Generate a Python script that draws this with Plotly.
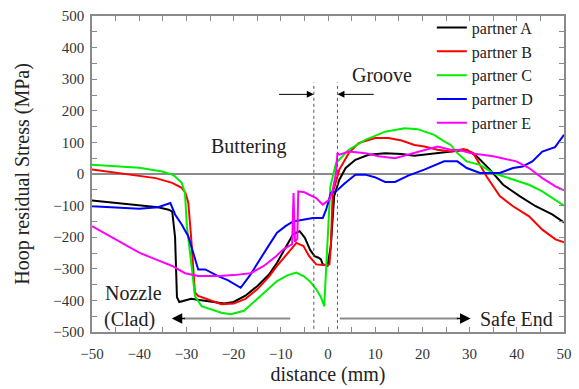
import plotly.graph_objects as go

# ---- data ----
xa = [-50, -45.6, -40, -36, -33.75, -33, -32.4, -32, -31.5, -30.5, -29, -28, -26, -24, -22, -20, -17.5, -15, -12.5,
      -10.8, -9, -7.4, -6, -4.9, -3.8, -2.85, -2, -1.5, -1.1, -0.1, 0.6, 1.3, 2.4, 3.75, 5.8, 8.6, 12.1, 15.6,
      18.3, 21.1, 23.9, 26, 29.4, 31.5, 34.3, 37.1, 40.6, 44, 47.5, 50]
ya = [-84, -90, -98, -105, -113, -119, -200, -390, -405, -400, -395, -397, -402, -407, -410, -405, -385, -355, -318,
      -281, -235, -191, -181, -202, -240, -260, -265, -270, -286, -290, -228, -70, -18, 19, 45, 61, 66, 63,
      58, 63, 66, 71, 77, 56, 14, -34, -70, -102, -128, -153]

xb = [-50, -45, -40, -36.5, -33, -31, -30.2, -29.6, -29, -28.2, -27.5, -25, -22.6, -20, -17.5, -15, -12.5, -10.8,
      -8.5, -6.7, -5.2, -4, -2.5, -1, 0.3, 0.6, 1, 2.4, 4.4, 6.5, 10, 12.8, 15.6, 18.3, 20.4, 23.2, 26, 28.75,
      30.8, 33.6, 36.4, 39.2, 42.6, 45.4, 48.2, 50]
yb = [14, 4, -5, -13, -28, -44, -60, -91, -200, -375, -386, -400, -412, -410, -395, -365, -325, -291,
      -250, -218, -228, -260, -286, -288, -286, -228, -60, 14, 66, 98, 114, 114, 106, 92, 87, 77, 71, 79,
      66, -8, -70, -102, -134, -176, -207, -216]

xc = [-50, -45, -40, -35.1, -33, -32.4, -31, -30.3, -29.9, -28.9, -28.2, -26.8, -24, -22.6, -20.6, -17.8, -14.3,
      -10.8, -8.5, -6.7, -5.2, -3.8, -2.5, -1.5, -0.8, -0.2, 0.5, 1.7, 4.4, 7.9, 12.1, 16.25, 19, 22.5, 24.6,
      26, 27.4, 29.4, 32.2, 35, 38.5, 42.6, 45.4, 48.2, 50]
yc = [29, 25, 20, 8, -2, -8, -28, -60, -165, -291, -386, -418, -432, -439, -444, -433, -386,
      -339, -320, -312, -323, -340, -365, -390, -418, -228, -40, 35, 77, 108, 134, 145, 142, 124, 103,
      92, 66, 40, 29, 3, -13, -34, -55, -81, -100]

xd = [-50, -45, -40, -36, -33.4, -32.4, -31, -29.6, -28.5, -27.5, -26, -23.3, -21.25, -18.5, -16.5, -14.3, -12.5,
      -10.8, -9, -7.4, -5, -3.2, -1.1, -0.4, 0.6, 1.7, 3.5, 5.8, 7.9, 9.9, 12.1, 14.2, 17, 20.4, 24.6, 27.4,
      29.4, 32.2, 36.4, 39.2, 41.25, 43.3, 45.4, 46.8, 48.1, 50]
yd = [-102, -106, -110, -105, -92, -128, -160, -197, -250, -302, -302, -323, -336, -360, -320, -270, -225,
      -186, -165, -150, -143, -139, -139, -113, -60, -55, -30, -2, -2, -10, -25, -25, -5, 14, 40, 40,
      19, 3, 3, 19, 24, 40, 71, 78, 85, 124]

xe = [-50, -43.5, -40, -36.5, -33, -30.3, -27.5, -23, -20, -16.4, -13.6, -11, -9.5, -7.6, -7.3, -7.0, -6.5, -6.3,
      -5, -2.5, -1.1, 0.3, 1.0, 1.7, 2.0, 2.4, 4.4, 7.9, 10.7, 14.2, 16.9, 20.4, 23.2, 26, 28.1, 30.1, 35,
      39.9, 42.6, 45.4, 48.2, 50]
ye = [-165, -218, -249, -270, -291, -314, -323, -323, -320, -314, -291, -260, -239, -222, -60, -215, -205, -55,
      -58, -76, -97, -81, -50, 3, 66, 61, 71, 66, 56, 50, 61, 77, 87, 77, 75, 66, 56,
      40, 19, -13, -39, -52]

names = ["partner A", "partner B", "partner C", "partner D", "partner E"]
colors = ["#000000", "#ff0000", "#00ee00", "#0000ff", "#ff00ff"]
series = [(xa, ya), (xb, yb), (xc, yc), (xd, yd), (xe, ye)]

FONT = "Liberation Serif"

fig = go.Figure()
for (xs, ys), n, c in zip(series, names, colors):
    fig.add_trace(go.Scatter(x=xs, y=ys, mode="lines", name=n,
                             line=dict(color=c, width=2)))

grey = "#8a8a8a"
shapes = []
# dotted vertical lines (groove boundaries)
for xv in (-3, 2):
    shapes.append(dict(type="line", xref="x", yref="y", x0=xv, x1=xv, y0=-490, y1=290,
                       line=dict(color="#555555", width=1, dash="dot")))
# grey shafts of the bottom arrows
shapes.append(dict(type="line", xref="x", yref="y", x0=-8, x1=-30.5, y0=-457, y1=-457,
                   line=dict(color=grey, width=2)))
shapes.append(dict(type="line", xref="x", yref="y", x0=2.5, x1=27.5, y0=-457, y1=-457,
                   line=dict(color=grey, width=2)))

ann = []
def arrow(x, y, ax, ay, w=1.2):
    ann.append(dict(x=x, y=y, ax=ax, ay=ay, xref="x", yref="y", axref="x", ayref="y",
                    text="", showarrow=True, arrowhead=2, arrowsize=1.4, arrowwidth=w,
                    arrowcolor="#000000", standoff=0, startstandoff=0))

arrow(-33.1, -457, -30.0, -457, 1.5)
arrow(30.2, -457, 27.0, -457, 1.5)
arrow(-3, 252, -10.7, 252, 1)
arrow(2, 252, 10, 252, 1)

def label(x, y, t):
    ann.append(dict(x=x, y=y, xref="x", yref="y", text=t, showarrow=False,
                    font=dict(family=FONT, size=20, color="#222222")))

label(-16.8, 87, "Buttering")
label(11.5, 312, "Groove")
label(-41.3, -375, "Nozzle")
label(-42, -460, "(Clad)")
label(40, -460, "Safe End")

axis_common = dict(showline=True, linecolor=grey, linewidth=1.5, mirror="ticks",
                   ticks="inside", ticklen=5, tickcolor=grey, tickwidth=1,
                   showgrid=False,
                   tickfont=dict(family=FONT, size=15, color="#333333"))

fig.update_layout(
    width=579, height=389,
    margin=dict(l=92, r=7, t=16, b=55),
    plot_bgcolor="white", paper_bgcolor="white",
    showlegend=True,
    legend=dict(x=0.72, y=1.017, xanchor="left", yanchor="top",
                bgcolor="rgba(0,0,0,0)", font=dict(family=FONT, size=16, color="#222222"),
                tracegroupgap=0),
    shapes=shapes, annotations=ann,
    xaxis=dict(range=[-50, 50], dtick=10, tick0=-50,
               minor=dict(dtick=5, ticks="inside", ticklen=5, tickcolor=grey),
               zeroline=False, ticklabelstandoff=7,
               title=dict(text="distance (mm)", font=dict(family=FONT, size=20, color="#222222"), standoff=6),
               **axis_common),
    yaxis=dict(range=[-500, 500], dtick=100,
               minor=dict(dtick=50, ticks="inside", ticklen=5, tickcolor=grey),
               zeroline=True, zerolinecolor=grey, zerolinewidth=1.5, ticklabelstandoff=3,
               title=dict(text="Hoop residual Stress (MPa)", font=dict(family=FONT, size=20, color="#222222"), standoff=18),
               **axis_common),
)

fig.write_html("out.html")
